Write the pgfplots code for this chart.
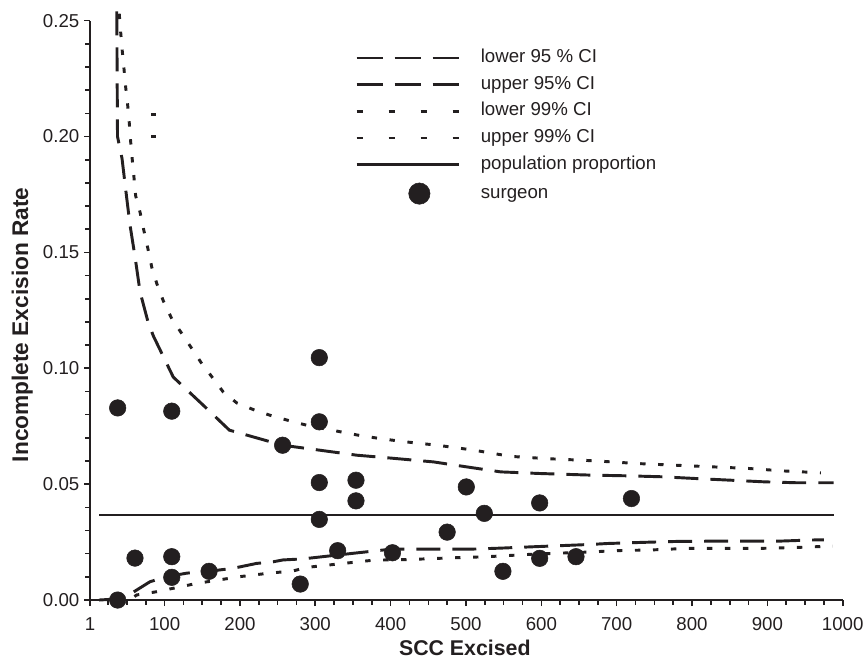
\documentclass[border=0pt]{standalone}
\usepackage{fontspec}
\setmainfont{Liberation Sans}
\usepackage{pgfplots}
\pgfplotsset{compat=1.18}
\definecolor{ink}{RGB}{35,31,32}
\begin{document}
\begin{tikzpicture}
\useasboundingbox (-67.5pt,-45pt) rectangle (581.2pt,450pt);
\begin{axis}[
  at={(0,0)}, anchor=south west,
  scale only axis, width=564.5pt, height=434.5pt,
  xmin=1, xmax=1000, ymin=0, ymax=0.25,
  enlargelimits=false, clip=false,
  axis lines=left, axis line style={-, line width=1.3pt, ink},
  xtick={1,100,200,300,400,500,600,700,800,900,1000},
  minor xtick={25,50,75,125,150,175,225,250,275,325,350,375,425,450,475,525,550,575,625,650,675,725,750,775,825,850,875,925,950,975},
  ytick={0,0.05,0.10,0.15,0.20,0.25},
  minor ytick={0.01,0.02,0.03,0.04,0.06,0.07,0.08,0.09,0.11,0.12,0.13,0.14,0.16,0.17,0.18,0.19,0.21,0.22,0.23,0.24},
  tick align=outside, major tick length=4.5pt, minor tick length=3.5pt,
  tick style={ink, line width=1.2pt},
  /pgf/number format/assume math mode=true,
  /pgf/number format/1000 sep={},
  yticklabel style={/pgf/number format/.cd, fixed, fixed zerofill, precision=2},
  xticklabel style={yshift=-5pt},
  ticklabel style={font=\fontsize{14}{16}\selectfont, text=ink},
  xlabel={SCC Excised}, ylabel={Incomplete Excision Rate},
  xlabel style={at={(axis description cs:0.498,-0.083)}, anchor=center, inner sep=1pt, font=\bfseries\fontsize{16}{19}\selectfont, text=ink},
  ylabel style={at={(axis description cs:-0.09,0.475)}, anchor=center, font=\bfseries\fontsize{17}{20}\selectfont, text=ink},
  legend style={at={(axis description cs:0.352,0.951)}, anchor=north west, draw=none, fill=none, inner sep=0pt, row sep=7pt, column sep=15pt, font=\fontsize{14}{16}\selectfont, nodes={inner sep=0pt, text height=10pt, text depth=3pt, text=ink}},
  legend cell align=left,
]
% lower 95% CI
\addplot[ink, line width=2.2pt, dash pattern=on 18pt off 9pt,
  legend image code/.code={\draw[ink, line width=2.2pt, dash pattern=on 20pt off 8.5pt] (0pt,0pt) -- (77pt,0pt);}]
coordinates {(13,0.0) (28,0.0003) (56,0.0029) (80.6,0.0079) (103,0.0101) (129.5,0.0116) (171,0.0129) (191,0.0137) (222,0.0158) (244,0.0165) (257,0.0173) (280,0.0177) (293,0.0181) (351,0.0202) (402,0.0220) (462,0.0220) (510,0.0220) (546,0.0224) (590,0.0230) (666,0.0240) (688,0.0244) (736,0.0249) (781,0.0253) (825,0.0254) (869,0.0254) (914,0.0254) (958,0.0259) (975,0.0260)};
\addlegendentry{lower 95 \% CI}
% upper 95% CI
\addplot[ink, line width=2.2pt, dash pattern=on 18pt off 9pt,
  legend image code/.code={\draw[ink, line width=2.2pt, dash pattern=on 20pt off 8.5pt] (0pt,0pt) -- (77pt,0pt);}]
coordinates {(36.5,0.254) (37.5,0.200) (43.5,0.1905) (48.8,0.176) (54,0.162) (60.8,0.148) (67.4,0.133) (78,0.120) (85,0.114) (111.5,0.0962) (151.5,0.084) (186,0.0733) (256.6,0.0668) (305,0.0647) (355,0.0625) (402,0.0612) (457,0.0596) (500,0.0575) (546,0.0553) (598,0.0546) (666,0.0539) (714,0.0536) (759,0.0532) (807,0.0524) (852,0.0517) (896,0.0510) (940,0.0506) (988,0.0506)};
\addlegendentry{upper 95\% CI}
% lower 99% CI
\addplot[ink, line width=2.2pt, dash pattern=on 4pt off 9.5pt,
  legend image code/.code={\draw[ink, line width=2.2pt, dash pattern=on 5pt off 19pt] (0pt,0pt) -- (77pt,0pt);}]
coordinates {(60,0.0015) (63,0.0022) (89.6,0.0036) (120.6,0.0057) (143,0.0072) (164.7,0.0083) (200,0.0101) (236,0.0115) (271,0.0126) (289,0.0141) (377,0.0172) (426,0.0175) (480,0.0182) (528,0.0187) (590,0.0198) (670,0.0208) (696,0.0213) (745,0.0216) (794,0.0223) (843,0.0223) (892,0.0223) (940,0.0227) (987,0.0233)};
\addlegendentry{lower 99\% CI}
% upper 99% CI
\addplot[ink, line width=2.2pt, dash pattern=on 4pt off 9.5pt,
  legend image code/.code={\draw[ink, line width=2.2pt, dash pattern=on 5pt off 19pt] (0pt,0pt) -- (77pt,0pt);}]
coordinates {(39.8,0.253) (41.7,0.245) (43.8,0.237) (46,0.2296) (48.3,0.2214) (51,0.2136) (53.1,0.206) (54.9,0.198) (57.1,0.190) (59.3,0.1826) (61.6,0.1744) (67.3,0.1675) (72.8,0.159) (77.6,0.152) (83,0.1436) (89.6,0.1366) (98.4,0.129) (109.5,0.1214) (122.8,0.115) (136,0.1086) (149.4,0.102) (164.7,0.0955) (178,0.0897) (196,0.085) (220,0.0819) (244,0.0793) (271,0.0769) (289,0.0754) (315.6,0.0737) (364,0.0707) (413,0.0685) (462,0.0668) (510,0.0647) (559,0.062) (608,0.061) (656,0.0603) (679,0.0599) (727.6,0.0589) (776,0.0582) (825,0.0575) (874,0.0568) (922,0.0557) (971,0.0549)};
\addlegendentry{upper 99\% CI}
% population proportion
\addplot[ink, line width=1.9pt,
  legend image code/.code={\draw[ink, line width=1.9pt] (0pt,0pt) -- (77pt,0pt);}]
coordinates {(13,0.0367) (988,0.0367)};
\addlegendentry{population proportion}
% surgeons
\addplot[only marks, mark=*, mark size=6.2pt, ink, mark options={fill=ink, draw=ink},
  legend image code/.code={\path[draw=none] (0pt,0pt) -- (77pt,0pt); \fill[ink] (47pt,0pt) circle (8pt);}]
coordinates {(37.7,0.0829) (109.5,0.0815) (256.6,0.0668) (60.7,0.0181) (109.5,0.0187) (109.5,0.0098) (159,0.0124) (37.7,0.0) (280,0.0069) (305.3,0.1046) (305.3,0.0769) (305.3,0.0507) (305.3,0.0348) (329.7,0.0213) (354,0.0517) (354,0.0428) (402.4,0.0204) (475,0.0293) (500.4,0.0488) (524.3,0.0374) (549,0.0124) (597.8,0.0419) (597.8,0.0180) (646,0.0187) (719.6,0.0438)};
\addlegendentry{surgeon}
% stray fragments
\addplot[ink, line width=2.2pt, forget plot] coordinates {(82,0.2095) (89,0.2095)};
\addplot[ink, line width=2.2pt, forget plot] coordinates {(82,0.2000) (89,0.2000)};
\end{axis}
\end{tikzpicture}
\end{document}
